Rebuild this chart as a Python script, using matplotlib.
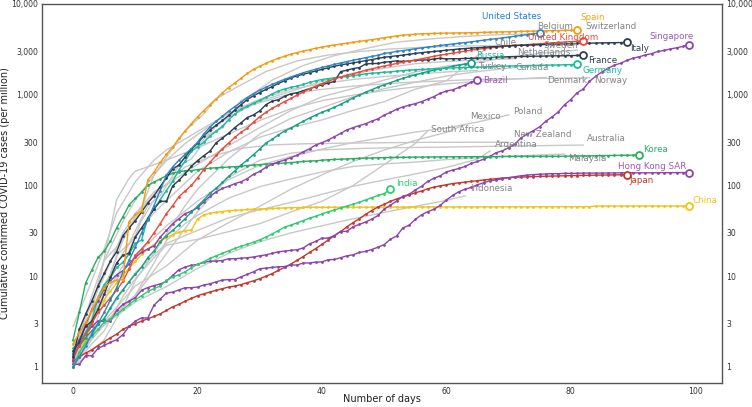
import matplotlib
matplotlib.use("Agg")
import matplotlib.pyplot as plt
import numpy as np
from matplotlib.ticker import FixedLocator, FuncFormatter, NullLocator

# cumulative confirmed cases per million, one value per day since 1 case/million
spain = [1.8, 2.4, 3.1, 4.2, 5.8, 7.5, 8.6, 9, 9.2, 40, 48, 52, 115, 140, 180, 220, 265, 330, 400, 480,
         570, 670, 780, 900, 1050, 1200, 1350, 1520, 1720, 1900, 2060, 2220, 2380, 2520, 2660, 2800, 2920,
         3030, 3140, 3250, 3350, 3450, 3540, 3620, 3700, 3780, 3870, 3960, 4050, 4150, 4250, 4350, 4450,
         4530, 4600, 4650, 4690, 4720, 4740, 4760, 4780, 4790, 4800, 4810, 4830, 4850, 4870, 4890, 4910,
         4930, 4950, 4970, 4990, 5010, 5030, 5050, 5070, 5090, 5100, 5120, 5140, 5150]
us = [1.0, 1.3, 1.7, 2.3, 3.0, 4.0, 5.5, 7.5, 11, 15, 21, 30, 42, 60, 88, 130, 160, 190, 220, 255, 300,
      370, 440, 510, 580, 660, 740, 830, 930, 1030, 1120, 1210, 1300, 1390, 1480, 1570, 1660, 1750, 1830,
      1910, 2000, 2080, 2160, 2240, 2320, 2400, 2480, 2560, 2640, 2720, 2850, 2920, 3000, 3070, 3140, 3210,
      3280, 3350, 3420, 3490, 3560, 3620, 3690, 3760, 3830, 3910, 3990, 4070, 4150, 4230, 4320, 4410, 4500,
      4600, 4700, 4800]
uk = [1.3, 1.7, 2.3, 3.0, 4.0, 4.8, 5.8, 7.0, 8.8, 12, 17, 20, 24, 30, 38, 49, 60, 75, 87, 100, 121, 150,
      180, 215, 255, 293, 340, 385, 430, 500, 572, 640, 710, 770, 840, 910, 990, 1070, 1160, 1240, 1330,
      1410, 1490, 1570, 1640, 1712, 1780, 1860, 1930, 2000, 2070, 2140, 2210, 2280, 2350, 2416, 2490, 2570,
      2650, 2730, 2800, 2880, 2950, 3020, 3100, 3170, 3230, 3290, 3340, 3390, 3444, 3490, 3530, 3570, 3610,
      3650, 3690, 3730, 3770, 3810, 3850, 3880, 3910]
italy = [1.3, 2.6, 3.8, 5.3, 7.8, 10.8, 14.7, 18.7, 28, 34, 41, 51, 64, 77, 97, 122, 152, 168, 206, 250,
         292, 350, 409, 463, 521, 591, 679, 778, 886, 978, 1057, 1144, 1230, 1333, 1430, 1529, 1616, 1683,
         1750, 1829, 1906, 1982, 2061, 2133, 2192, 2243, 2306, 2375, 2441, 2518, 2586, 2638, 2687, 2731,
         2794, 2852, 2910, 2960, 2997, 3042, 3098, 3142, 3192, 3231, 3269, 3298, 3333, 3367, 3398, 3431,
         3462, 3485, 3505, 3523, 3547, 3570, 3592, 3610, 3623, 3636, 3659, 3673, 3690, 3703, 3717, 3728,
         3736, 3749, 3760, 3771]
france = [1.5, 1.9, 2.8, 3.2, 4.3, 6.3, 9.7, 14, 17, 18, 27, 34, 43, 55, 67, 67, 99, 114, 135, 162, 188,
          213, 239, 296, 333, 377, 435, 492, 561, 600, 665, 778, 851, 882, 960, 1024, 1052, 1110, 1167,
          1225, 1289, 1347, 1400, 1800, 1864, 1944, 1992, 2180, 2210, 2211, 2284, 2319, 2361, 2328, 2363,
          2387, 2413, 2421, 2477, 2523, 2486, 2497, 2497, 2515, 2521, 2531, 2548, 2560, 2600, 2601, 2628,
          2637, 2643, 2650, 2662, 2660, 2676, 2681, 2686, 2687, 2700, 2712, 2716]
germany = [1.6, 1.9, 2.4, 3.2, 5.8, 8.1, 9.6, 12.5, 14.2, 17.5, 23, 25, 44, 55, 70, 88, 111, 148, 185,
           239, 268, 300, 350, 397, 450, 529, 613, 695, 748, 806, 865, 938, 1022, 1098, 1158, 1206, 1245,
           1297, 1365, 1424, 1472, 1505, 1540, 1567, 1583, 1624, 1659, 1704, 1727, 1749, 1772, 1787, 1815,
           1845, 1867, 1886, 1901, 1913, 1927, 1946, 1964, 1977, 1988, 1996, 2002, 2012, 2026, 2041, 2055,
           2064, 2071, 2079, 2086, 2098, 2102, 2111, 2118, 2125, 2127, 2142, 2150, 2157]
russia = [1.4, 1.7, 2.1, 2.5, 3.0, 3.4, 4.5, 5.8, 7.1, 8.7, 10.5, 12.6, 16, 19, 24, 28, 32, 37, 43, 51,
          59, 69, 82, 93, 108, 126, 145, 168, 191, 219, 252, 294, 323, 362, 397, 430, 470, 511, 555, 597,
          641, 681, 730, 784, 850, 923, 995, 1065, 1137, 1214, 1287, 1361, 1437, 1517, 1591, 1660, 1728,
          1801, 1864, 1930, 1992, 2055, 2115, 2176, 2237]
brazil = [1.4, 2.0, 2.9, 4.3, 5.3, 7.3, 8.9, 10.4, 11.5, 13.7, 16.1, 18.4, 20, 21.6, 27, 32, 38, 43, 49,
          52, 57, 66, 76, 85, 93, 98, 105, 110, 119, 133, 143, 159, 172, 182, 191, 203, 215, 235, 254, 279,
          297, 317, 345, 375, 410, 434, 457, 479, 511, 543, 596, 639, 691, 734, 766, 798, 839, 895, 956,
          1037, 1099, 1134, 1202, 1278, 1372, 1459]
singapore = [1.2, 1.8, 2.3, 2.8, 3.2, 3.2, 3.2, 4.2, 4.9, 5.3, 5.8, 7.0, 7.5, 7.9, 8.2, 8.8, 10.2, 11.8,
             12.6, 13.2, 13.5, 14.2, 14.7, 14.7, 14.9, 15.6, 15.6, 15.8, 16.0, 16.3, 16.8, 17.2, 17.9, 18.6,
             18.9, 19.3, 19.6, 20.5, 22.8, 24.2, 26.3, 26.3, 28.1, 31.2, 31.2, 35.1, 37.2, 39.6, 42.6, 46.7,
             54.9, 60.5, 67.5, 75.8, 79.8, 89.3, 97.9, 111, 120, 128, 141, 148, 154, 162, 175, 184, 195, 209,
             230, 241, 260, 285, 335, 370, 403, 444, 512, 571, 649, 777, 886, 1051, 1156, 1406, 1601, 1779,
             1961, 2118, 2227, 2390, 2530, 2623, 2744, 2837, 3000, 3079, 3194, 3294, 3405, 3543]
hong_kong = [1.07, 1.07, 1.33, 1.33, 1.6, 1.73, 1.87, 2.0, 2.27, 2.8, 3.2, 3.47, 3.47, 4.8, 5.6, 6.53,
             6.67, 7.07, 7.47, 7.47, 7.6, 8.0, 8.27, 8.67, 9.07, 9.2, 9.2, 9.87, 10.5, 11.2, 12.1, 12.3,
             12.5, 12.7, 12.8, 13.3, 13.3, 14.0, 14.0, 14.3, 14.4, 15.2, 15.3, 16.0, 16.8, 17.2, 18.3, 18.8,
             19.7, 20.9, 22.3, 25.6, 27.7, 34.1, 36.4, 42.3, 47.5, 51.5, 54.7, 60.4, 69.1, 77.6, 85.5, 90.9,
             95.3, 102, 107, 113, 115, 119, 122, 125, 128, 130, 132, 133, 134, 135, 135, 136, 136, 136, 137,
             137, 137, 137, 137.5, 137.5, 138, 138, 138, 138, 138, 138, 138.3, 138.5, 138.5, 138.7, 138.9, 139]
korea = [2.0, 4.0, 8.4, 11.7, 16.1, 18.9, 24.4, 34.2, 45.3, 61, 72, 84, 100, 109, 118, 128, 136, 142, 145,
         146, 150, 152, 155, 157, 158, 160, 161, 163, 166, 168, 170, 172, 174, 175, 177, 179, 181, 184, 186,
         187, 190, 192, 193.5, 195, 196, 198, 199, 200, 201, 202, 203, 203.5, 204, 204.5, 205, 205.3, 205.6,
         206, 206.3, 206.6, 207, 207.2, 207.4, 207.6, 207.8, 208, 208.2, 208.4, 208.6, 208.8, 209, 209,
         209.1, 209.2, 209.3, 209.4, 209.5, 209.6, 209.8, 210.2, 211, 211.5, 212, 212.5, 213, 213.5, 214,
         214.5, 215, 215.5, 216, 216.5]
japan = [1.15, 1.3, 1.42, 1.55, 1.72, 1.9, 2.1, 2.3, 2.6, 2.8, 3.0, 3.2, 3.4, 3.6, 3.85, 4.2, 4.6, 4.9,
         5.3, 5.7, 6.1, 6.4, 6.7, 7.0, 7.3, 7.6, 7.8, 8.1, 8.5, 8.9, 9.4, 10.0, 10.7, 11.6, 12.5, 13.6,
         15.0, 16.5, 18.3, 20.2, 22.5, 25, 28, 31, 35, 39, 43, 48, 53, 58, 62, 67, 71, 75, 79, 83, 87, 92,
         96, 99, 102, 105, 107, 109, 111, 113, 115, 117, 119, 120.5, 122, 123, 124, 124.7, 125.3, 126,
         126.5, 127, 127.5, 128, 128.4, 128.8, 129.2, 129.6, 130, 130.3, 130.6, 130.9, 131.2, 131.5]
china = [1.0, 1.4, 2.0, 3.2, 4.3, 5.5, 6.9, 8.4, 10.3, 12.3, 14.6, 17.4, 20, 22.3, 24.7, 26.6, 28.7, 30.5,
         31.9, 32.3, 42.7, 47.5, 49.3, 50.6, 51.6, 52.9, 53.3, 53.6, 54.4, 54.7, 55.0, 55.3, 55.8, 56.2,
         56.6, 56.9, 57.1, 57.3, 57.4, 57.5, 57.5, 57.6, 57.6, 57.6, 57.7, 57.7, 57.7, 57.7, 57.8, 57.8,
         57.8, 57.8, 57.8, 57.9, 57.9, 57.9, 57.9, 58.0, 58.0, 58.0, 58.0, 58.0, 58.1, 58.1, 58.1, 58.1,
         58.1, 58.1, 58.2, 58.2, 58.2, 58.2, 58.2, 58.2, 58.2, 58.3, 58.3, 58.3, 58.3, 58.3, 58.3, 58.3,
         58.4, 58.4, 59.3, 59.3, 59.3, 59.3, 59.3, 59.3, 59.4, 59.4, 59.4, 59.4, 59.4, 59.4, 59.4, 59.4,
         59.4, 59.4]
india = [1.0, 1.45, 1.84, 2.2, 2.6, 3.1, 3.4, 3.8, 4.3, 4.9, 5.5, 6.1, 6.8, 7.3, 7.8, 9.0, 9.8, 10.4, 11.2,
         12.4, 13.5, 14.5, 15.7, 16.8, 17.9, 19.0, 20.3, 21.4, 22.5, 23.7, 25.2, 27.0, 29.3, 31.9, 34.8,
         36.6, 38.8, 41.0, 43.7, 45.8, 48.6, 51.3, 53.6, 56.6, 59.3, 62.2, 65.4, 69.2, 73.5, 77.7, 81.6, 91.0]

# grey background countries: (days, values)
belgium = ([0, 2, 4, 7, 9, 12, 14, 17, 19, 22, 24, 27, 29, 32, 37, 42, 47, 52, 57, 62, 67, 74],
           [1.1, 2.0, 4.3, 17, 23, 60, 77, 165, 196, 370, 429, 860, 1034, 1450, 2100, 2700, 3230, 3800,
            4100, 4350, 4550, 4700])
switzerland = ([0, 2, 4, 6, 8, 11, 13, 16, 18, 21, 23, 26, 31, 36, 41, 46, 51, 56, 61, 71, 81],
               [1.0, 2.1, 6, 10.5, 25, 57, 130, 256, 400, 615, 900, 1180, 1800, 2360, 2740, 2990, 3190,
                3330, 3420, 3510, 3560])
chile = ([0, 3, 5, 8, 10, 13, 15, 20, 25, 30, 35, 40, 45, 50, 55, 60, 63, 65, 67],
         [1.2, 3, 8, 18, 28, 50, 68, 143, 234, 340, 433, 528, 673, 838, 1152, 1424, 2068, 2700, 3500])
sweden = ([0, 2, 5, 8, 10, 13, 15, 20, 25, 30, 35, 40, 45, 50, 55, 60, 65, 70, 75, 81],
          [1.4, 3.5, 10, 30, 49, 85, 102, 171, 275, 435, 670, 950, 1170, 1450, 1780, 2070, 2280, 2580,
           2860, 3100])
netherlands = ([0, 2, 5, 8, 10, 13, 15, 18, 20, 23, 25, 30, 35, 40, 45, 50, 55, 60, 65, 71],
               [1.4, 2.4, 15, 25, 46, 80, 119, 200, 275, 450, 564, 850, 1090, 1410, 1690, 1970, 2200, 2330,
                2415, 2500])
turkey = ([0, 1, 3, 5, 8, 10, 13, 15, 18, 20, 25, 30, 35, 40, 45, 50, 55, 60, 65],
          [1.2, 2.3, 6, 15, 40, 69, 130, 189, 290, 364, 629, 894, 1150, 1327, 1475, 1587, 1684, 1784, 1850])
canada = ([0, 3, 5, 8, 10, 13, 15, 18, 20, 25, 30, 35, 40, 45, 50, 55, 60, 65, 71],
          [1.0, 1.5, 2, 4.5, 9, 18, 29, 60, 91, 197, 369, 549, 719, 948, 1167, 1372, 1609, 1800, 2000])
denmark = ([0, 3, 5, 7, 9, 10, 12, 15, 20, 25, 30, 35, 40, 45, 50, 55, 60, 65, 70, 76],
           [1.7, 4, 15.5, 70, 120, 144, 160, 190, 260, 370, 520, 700, 860, 990, 1110, 1220, 1320, 1400,
            1480, 1550])
norway = ([0, 2, 5, 7, 10, 13, 15, 20, 25, 30, 35, 40, 45, 50, 55, 60, 65, 70, 75, 83],
          [2.8, 6, 20, 50, 110, 190, 246, 393, 621, 820, 1024, 1146, 1243, 1320, 1383, 1427, 1475, 1495,
           1516, 1540])
mexico = ([0, 5, 10, 15, 20, 25, 30, 35, 40, 45, 50, 55, 60, 63],
          [1.0, 3.2, 7.8, 13, 25, 39, 59, 91, 131, 184, 246, 314, 385, 470])
poland = ([0, 5, 10, 15, 20, 25, 30, 35, 40, 45, 50, 55, 60, 65, 70],
          [1.3, 6.3, 16.7, 36, 67, 116, 167, 208, 252, 297, 339, 388, 430, 500, 600])
south_africa = ([0, 3, 5, 8, 10, 13, 15, 20, 25, 30, 35, 40, 45, 50, 55, 57],
                [1.0, 1.8, 2.5, 6, 9.4, 16, 22, 25.5, 31, 38, 51, 67, 100, 170, 290, 400])
new_zealand = ([0, 3, 6, 8, 11, 14, 18, 22, 27, 32, 37, 47, 57, 70],
               [1.2, 2.4, 7.8, 13, 41, 90, 160, 208, 257, 280, 288, 295, 299, 300])
australia = ([0, 5, 10, 15, 20, 25, 30, 35, 40, 45, 50, 60, 70, 82],
             [1.2, 2.9, 6.1, 17.7, 51.5, 123, 190, 227, 247, 254, 260, 265, 272, 279])
argentina = ([0, 5, 10, 15, 20, 25, 30, 35, 40, 45, 50, 55, 60, 65, 67],
             [1.2, 3.5, 11, 23, 32, 44, 54, 65, 80, 98, 115, 134, 158, 195, 240])
malaysia = ([0, 5, 10, 13, 15, 18, 20, 25, 30, 35, 40, 45, 50, 55, 60, 65, 70, 75, 79],
            [1.1, 3.1, 6.2, 14, 24.7, 38, 47, 72.5, 97, 118, 141, 162, 173, 181, 193, 202, 210, 217, 222])
indonesia = ([0, 5, 10, 15, 20, 25, 30, 35, 40, 45, 50, 55, 60, 63],
             [1.4, 2.9, 5.2, 7.7, 12.2, 17.9, 24, 30, 36, 43, 50.5, 59, 68.5, 77])

highlighted = [
    ("China", china, "#f1c40f"),
    ("Japan", japan, "#c0392b"),
    ("Hong Kong SAR", hong_kong, "#8e44ad"),
    ("Singapore", singapore, "#8e44ad"),
    ("India", india, "#2ecc71"),
    ("Korea", korea, "#27ae60"),
    ("Brazil", brazil, "#8e44ad"),
    ("Russia", russia, "#16a085"),
    ("Germany", germany, "#1abc9c"),
    ("France", france, "#2c3e50"),
    ("United Kingdom", uk, "#e74c3c"),
    ("Italy", italy, "#2c3e50"),
    ("United States", us, "#2e86c1"),
    ("Spain", spain, "#f39c12"),
]
label_colors = {"Russia": "#1abc9c", "Germany": "#1abc9c", "Hong Kong SAR": "#9b59b6",
                "Singapore": "#9b59b6", "Brazil": "#9b59b6", "United States": "#1f7fd1",
                "Spain": "#f5a20f"}

grey = [("Belgium", belgium), ("Switzerland", switzerland), ("Chile", chile), ("Sweden", sweden),
        ("Netherlands", netherlands), ("Turkey", turkey), ("Canada", canada), ("Denmark", denmark),
        ("Norway", norway), ("Mexico", mexico), ("Poland", poland), ("South Africa", south_africa),
        ("New Zealand", new_zealand), ("Australia", australia), ("Argentina", argentina),
        ("Malaysia", malaysia), ("Indonesia", indonesia)]

# label placement, pixel offset from the last point of each line
offsets = {
    "United States": (-58, 16), "Spain": (3, 13), "United Kingdom": (-55, 4), "Italy": (3, -6),
    "France": (5, -5), "Germany": (5, -6), "Russia": (5, 8), "Brazil": (6, -1), "Singapore": (-40, 8),
    "Korea": (4, 6), "Hong Kong SAR": (-71, 6), "Japan": (3, -6), "China": (3, 6), "India": (6, 6),
    "Belgium": (4, 7), "Switzerland": (8, 18), "Chile": (5, 3), "Sweden": (-34, 5), "Netherlands": (2, 6),
    "Turkey": (1, 4), "Canada": (1, 0), "Denmark": (1, -3), "Norway": (5, -3), "Mexico": (5, 8),
    "Poland": (5, 3), "South Africa": (3, 1), "New Zealand": (5, 8), "Australia": (4, 7),
    "Argentina": (5, 6), "Malaysia": (4, -4), "Indonesia": (5, 7),
}

fig = plt.figure(figsize=(7.52, 4.07), dpi=100)
ax = fig.add_axes([42 / 752, 1 - 383 / 407, 680 / 752, 379 / 407])
ax.set_yscale("log")

for name, (d, v) in grey:
    ax.plot(d, v, color="#c8c8c8", lw=1.0, zorder=1)
    ax.annotate(name, (d[-1], v[-1]), xytext=offsets[name], textcoords="offset pixels",
                ha="left", va="center", fontsize=6.3, color="#858585", zorder=5)

for name, vals, col in highlighted:
    days = np.arange(len(vals))
    ax.plot(days, vals, color=col, lw=1.0, marker="o", ms=2.0, mew=0, zorder=3)
    ax.plot(days[-1], vals[-1], marker="o", ms=5, mfc="white", mec=col, mew=1.3, zorder=4)
    ax.annotate(name, (days[-1], vals[-1]), xytext=offsets[name], textcoords="offset pixels",
                ha="left", va="center", fontsize=6.3, color=label_colors.get(name, col), zorder=5)

ax.set_xlim(-5, 104.3)
ax.set_ylim(0.666, 10000)
yt = [1, 3, 10, 30, 100, 300, 1000, 3000, 10000]
ax.yaxis.set_major_locator(FixedLocator(yt))
ax.yaxis.set_minor_locator(NullLocator())
ax.yaxis.set_major_formatter(FuncFormatter(lambda v, p: f"{v:,.0f}"))
ax.set_xticks([0, 20, 40, 60, 80, 100])
ax.tick_params(axis="both", length=0, pad=3, labelsize=5.6, colors="#333333")
ax.tick_params(axis="y", labelright=True)
for s in ax.spines.values():
    s.set_color("#555555")
    s.set_linewidth(1.0)

ax.set_xlabel("Number of days", fontsize=7, color="#222222")
ax.xaxis.set_label_coords(0.5, -0.03)
ax.set_ylabel("Cumulative confirmed COVID-19 cases (per million)", fontsize=7, color="#222222")
ax.yaxis.set_label_coords(-0.047, 0.5)

fig.savefig("out.png", dpi=100)
